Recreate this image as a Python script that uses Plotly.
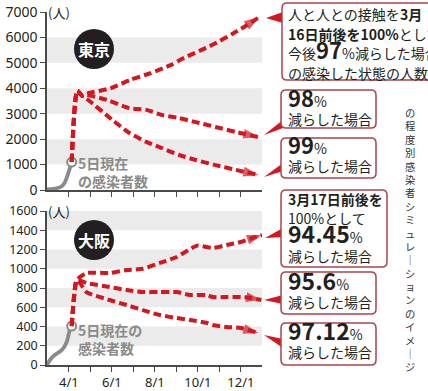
import plotly.graph_objects as go

# ---------------- data ----------------
tick_dates = ["2020-04-01", "2020-05-01", "2020-06-01", "2020-07-01", "2020-08-01",
              "2020-09-01", "2020-10-01", "2020-11-01", "2020-12-01"]
tick_text = ["4/1", "", "6/1", "", "8/1", "", "10/1", "", "12/1"]

# Tokyo
tokyo_actual_dates = ["2020-03-01", "2020-03-10", "2020-03-16", "2020-03-22", "2020-03-26",
                      "2020-03-30", "2020-04-02", "2020-04-05"]
tokyo_actual = [20, 40, 80, 150, 280, 560, 820, 1100]

tokyo_97_dates = ["2020-04-05", "2020-04-13", "2020-04-20", "2020-04-28", "2020-05-30", "2020-06-27",
                  "2020-07-26", "2020-08-24", "2020-09-08", "2020-10-21", "2020-11-21", "2020-12-10",
                  "2020-12-27"]
tokyo_97 = [1100, 3900, 3700, 3800, 4000, 4330, 4600, 4920, 5150, 5700, 6170, 6490, 6800]

tokyo_98_dates = ["2020-04-05", "2020-04-13", "2020-04-20", "2020-04-26", "2020-05-25", "2020-06-26",
                  "2020-07-20", "2020-08-11", "2020-09-04", "2020-09-28", "2020-10-26", "2020-11-24",
                  "2020-12-26"]
tokyo_98 = [1100, 3900, 3700, 3740, 3540, 3220, 3150, 2950, 2830, 2670, 2480, 2280, 2080]

tokyo_99_dates = ["2020-04-05", "2020-04-13", "2020-04-20", "2020-04-28", "2020-06-02", "2020-06-26",
                  "2020-07-20", "2020-08-11", "2020-09-04", "2020-09-28", "2020-10-26", "2020-11-24",
                  "2020-12-26"]
tokyo_99 = [1100, 3900, 3700, 3550, 2750, 2240, 1890, 1650, 1380, 1180, 980, 790, 590]

# Osaka
osaka_actual_dates = ["2020-03-01", "2020-03-06", "2020-03-12", "2020-03-22", "2020-03-29",
                      "2020-04-03", "2020-04-05"]
osaka_actual = [0, 60, 104, 156, 240, 385, 405]

osaka_9445_dates = ["2020-04-05", "2020-04-12", "2020-04-16", "2020-04-26", "2020-05-29", "2020-06-22",
                    "2020-07-15", "2020-08-08", "2020-09-01", "2020-09-30", "2020-10-22", "2020-11-11",
                    "2020-12-01", "2020-12-18", "2020-12-31"]
osaka_9445 = [405, 880, 910, 956, 956, 987, 1000, 1060, 1122, 1240, 1215, 1247, 1278, 1320, 1350]

osaka_956_dates = ["2020-04-05", "2020-04-12", "2020-04-16", "2020-04-26", "2020-05-29", "2020-06-22",
                   "2020-07-15", "2020-08-08", "2020-09-01", "2020-09-20", "2020-10-14", "2020-10-22",
                   "2020-11-11", "2020-12-01", "2020-12-15", "2020-12-30"]
osaka_956 = [405, 880, 880, 852, 810, 779, 758, 758, 758, 727, 727, 706, 706, 706, 696, 675]

osaka_9712_dates = ["2020-04-05", "2020-04-12", "2020-04-16", "2020-04-26", "2020-05-29", "2020-06-22",
                    "2020-07-15", "2020-08-08", "2020-09-01", "2020-09-20", "2020-10-14", "2020-10-22",
                    "2020-11-11", "2020-12-01", "2020-12-26"]
osaka_9712 = [405, 880, 860, 758, 675, 623, 571, 519, 488, 468, 436, 416, 395, 384, 332]

tokyo_bands = [(1000, 2000), (3000, 4000), (5000, 6000)]
osaka_bands = [(200, 400), (600, 800), (1000, 1200), (1400, 1600)]

side_title = "の程度別感染者シミュレ｜ションのイメ｜ジ"

# ---------------- styling / layout helpers ----------------
W, H = 428, 391
ML, MR, MT, MB = 47, 166, 12, 26
PW = W - ML - MR
PH = H - MT - MB
RED = "#d5161e"
GRAY = "#8a8a8a"
AX = "#4a4a4a"
TXT = "#231f20"
BOX = "#a8464e"
FONT = "Noto Sans CJK JP, Noto Sans, sans-serif"
XR = ["2020-03-01", "2020-12-31"]


def px2x(p):
    return (p - ML) / PW


def py2y(p):
    return (H - MB - p) / PH


fig = go.Figure()


def scenario(dates, vals, xa, ya):
    n = len(vals)
    fig.add_trace(go.Scatter(
        x=dates, y=vals, xaxis=xa, yaxis=ya, mode="lines+markers",
        line=dict(color=RED, width=4, dash="8px,4px", shape="spline", smoothing=0.6),
        marker=dict(symbol="arrow", size=[0] * (n - 1) + [16], color=RED,
                    angleref="previous", line=dict(width=0)),
        cliponaxis=False, hoverinfo="skip", showlegend=False))


def actual(dates, vals, xa, ya):
    fig.add_trace(go.Scatter(
        x=dates, y=vals, xaxis=xa, yaxis=ya, mode="lines",
        line=dict(color=GRAY, width=3.8, shape="spline", smoothing=0.8),
        hoverinfo="skip", showlegend=False))
    fig.add_trace(go.Scatter(
        x=[dates[-1]], y=[vals[-1]], xaxis=xa, yaxis=ya, mode="markers",
        marker=dict(symbol="circle", size=9, color="white", line=dict(color=GRAY, width=2)),
        cliponaxis=False, hoverinfo="skip", showlegend=False))


# Tokyo (top: x2/y2)
actual(tokyo_actual_dates, tokyo_actual, "x2", "y2")
scenario(tokyo_97_dates, tokyo_97, "x2", "y2")
scenario(tokyo_98_dates, tokyo_98, "x2", "y2")
scenario(tokyo_99_dates, tokyo_99, "x2", "y2")
# Osaka (bottom: x/y)
actual(osaka_actual_dates, osaka_actual, "x", "y")
scenario(osaka_9445_dates, osaka_9445, "x", "y")
scenario(osaka_956_dates, osaka_956, "x", "y")
scenario(osaka_9712_dates, osaka_9712, "x", "y")

shapes = []
for a, b in tokyo_bands:
    shapes.append(dict(type="rect", xref="x2", yref="y2", x0=XR[0], x1=XR[1], y0=a, y1=b,
                       fillcolor="#ebebeb", line=dict(width=0), layer="below"))
for a, b in osaka_bands:
    shapes.append(dict(type="rect", xref="x", yref="y", x0=XR[0], x1=XR[1], y0=a, y1=b,
                       fillcolor="#ebebeb", line=dict(width=0), layer="below"))


def rrect(x0, y0, x1, y1, r=5):
    X, Y = px2x, py2y
    path = (f"M {X(x0 + r)},{Y(y0)} L {X(x1 - r)},{Y(y0)} Q {X(x1)},{Y(y0)} {X(x1)},{Y(y0 + r)} "
            f"L {X(x1)},{Y(y1 - r)} Q {X(x1)},{Y(y1)} {X(x1 - r)},{Y(y1)} "
            f"L {X(x0 + r)},{Y(y1)} Q {X(x0)},{Y(y1)} {X(x0)},{Y(y1 - r)} "
            f"L {X(x0)},{Y(y0 + r)} Q {X(x0)},{Y(y0)} {X(x0 + r)},{Y(y0)} Z")
    return dict(type="path", xref="paper", yref="paper", path=path, fillcolor="white",
                line=dict(color=BOX, width=1.5), layer="above")


def tri(tip, b1, b2):
    path = (f"M {px2x(tip[0])},{py2y(tip[1])} L {px2x(b1[0])},{py2y(b1[1])} "
            f"L {px2x(b2[0])},{py2y(b2[1])} Z")
    return dict(type="path", xref="paper", yref="paper", path=path, fillcolor=RED,
                line=dict(width=0), layer="above")


pointers = [((266, 18), (283, 12), (283, 23)),
            ((264, 135), (283, 120), (283, 128)),
            ((264, 177), (283, 163), (283, 171)),
            ((265, 238), (283, 228), (283, 237)),
            ((264, 300), (283, 295), (283, 304)),
            ((264, 335), (283, 339), (283, 348))]
for t, a, b in pointers:
    shapes.append(tri(t, a, b))

boxes = [(282, 3, 450, 80), (281, 90, 376, 128), (281, 138, 376, 178),
         (281, 190, 387, 267), (281, 272, 376, 314), (281, 323, 376, 365)]
for b in boxes:
    shapes.append(rrect(*b))

# city badges
for cx, cy in [(94, 49), (94, 240)]:
    shapes.append(dict(type="circle", xref="paper", yref="paper",
                       x0=px2x(cx - 20), x1=px2x(cx + 20), y0=py2y(cy + 20), y1=py2y(cy - 20),
                       fillcolor="#231f20", line=dict(width=0), layer="above"))

annotations = []


def txt(px, py, text, size=14, color=TXT, xanchor="left", yanchor="middle", align="left"):
    annotations.append(dict(xref="paper", yref="paper", x=px2x(px), y=py2y(py), text=text,
                            showarrow=False, xanchor=xanchor, yanchor=yanchor, align=align,
                            font=dict(family=FONT, size=size, color=color)))


def s(t, size=14):
    return f"<span style='font-size:{size}px'>{t}</span>"


def big(num, size=22):
    return f"<b><span style='font-size:{size}px'>{num}</span></b>" + s("%")


BX = 286
# Tokyo boxes
txt(BX, 43, "<br>".join([
    s("人と人との接触を<b>3月</b>"),
    s("<b>16日前後を100%</b>として"),
    s("今後") + big("97") + s("減らした場合"),
    s("の感染した状態の人数")]), size=15)
txt(BX, 104.5, big("98") + "<br>" + s("減らした場合"), size=13.5)
txt(BX, 151.5, big("99") + "<br>" + s("減らした場合"), size=13.5)
# Osaka boxes
txt(BX, 228, "<br>".join([
    s("<b>3月17日前後を</b>"),
    s("100%として"),
    big("94.45", 23),
    s("減らした場合")]), size=14.6)
txt(BX, 287, big("95.6", 23) + "<br>" + s("減らした場合"), size=14)
txt(BX, 337, big("97.12", 23) + "<br>" + s("減らした場合"), size=14)

# badges text
txt(94, 49, "<b>東京</b>", size=16, color="white", xanchor="center")
txt(94, 240, "<b>大阪</b>", size=16, color="white", xanchor="center")

# current cases labels
txt(76, 172, "<b>5日現在<br>の感染者数</b>", size=14, color=GRAY)
txt(76, 339, "<b>5日現在の<br>感染者数</b>", size=14, color=GRAY)

# units
txt(46, 12, "(人)", size=13)
txt(46, 211, "(人)", size=13)

# side vertical title
txt(410, 239, "<br>".join(list(side_title)), size=10.3, color="#333333",
    xanchor="center", align="center")

axis_common = dict(showline=True, linecolor=AX, linewidth=1.5, ticks="outside", ticklen=5,
                   tickwidth=1.3, tickcolor=AX, showgrid=False, zeroline=False, automargin=False)

fig.update_layout(
    width=W, height=H, margin=dict(l=ML, r=MR, t=MT, b=MB, autoexpand=False),
    paper_bgcolor="white", plot_bgcolor="white", showlegend=False,
    font=dict(family=FONT, color=TXT),
    xaxis=dict(domain=[0, 1], anchor="y", range=XR, tickvals=tick_dates, ticktext=tick_text,
               tickfont=dict(family="Noto Sans, sans-serif", size=13, color=TXT), **axis_common),
    yaxis=dict(domain=[0, 154 / PH], anchor="x", range=[0, 1600], tick0=0, dtick=200,
               tickformat="d", tickfont=dict(family="Noto Sans, sans-serif", size=12.5, color=TXT),
               **axis_common),
    xaxis2=dict(domain=[0, 1], anchor="y2", range=XR, tickvals=tick_dates, showticklabels=False,
                **axis_common),
    yaxis2=dict(domain=[1 - 178 / PH, 1], anchor="x2", range=[0, 7000], tick0=0, dtick=1000,
                tickformat="d", tickfont=dict(family="Noto Sans, sans-serif", size=14, color=TXT),
                **axis_common),
    shapes=shapes, annotations=annotations,
)

fig.write_html("out.html", config={"displayModeBar": False},
               post_script="document.body.style.margin='0';document.body.style.padding='0';"
                           "document.body.style.overflow='hidden';")
